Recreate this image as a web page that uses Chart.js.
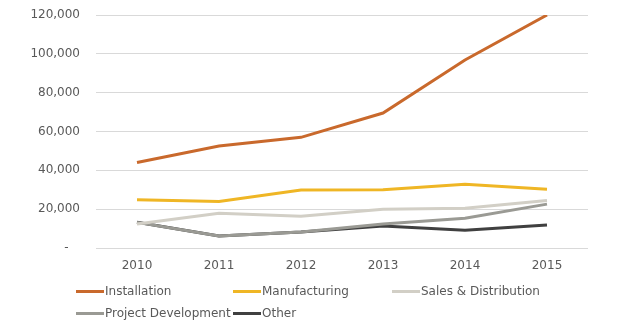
<!DOCTYPE html>
<html>
<head>
<meta charset="utf-8">
<script src="https://cdn.jsdelivr.net/npm/chart.js@4"></script>
<style>
  body { margin: 0; background: #fff; }
  #wrap { position: relative; width: 622px; height: 330px; }
  #legend {
    position: absolute; left: 76px; top: 283px;
    display: grid; grid-template-columns: 157px 159px 160px;
    row-gap: 6px;
    font: 12px "DejaVu Sans", Verdana, sans-serif; color: #595959;
  }
  #legend div { display: flex; align-items: center; height: 16px; white-space: nowrap; }
  #legend span.mk { display: inline-block; width: 28px; height: 3px; margin-right: 1px; }
</style>
</head>
<body>
<div id="wrap">
  <canvas id="jobs" width="622" height="330"></canvas>
  <div id="legend"></div>
</div>
<script>
// years on the x axis
const years = ['2010', '2011', '2012', '2013', '2014', '2015'];

const installation = [44000, 52500, 57000, 69500, 96800, 120000];
const manufacturing = [24800, 24000, 29900, 30000, 32800, 30300];
const sales_distribution = [12400, 17900, 16400, 20000, 20500, 24500];
const project_development = [13200, 6200, 8200, 12300, 15300, 22600];
const other = [13300, 6200, 8200, 11300, 9200, 11900];

const series_names = ['Installation', 'Manufacturing', 'Sales & Distribution', 'Project Development', 'Other'];
const series_colors = ['#c9692c', '#efb625', '#d2cfc6', '#9a9a94', '#404040'];

const all_series = [installation, manufacturing, sales_distribution, project_development, other];

const jobs = document.getElementById('jobs');
const jobs_setup = {
  labels: years,
  datasets: all_series.map(function(d, i) {
    return {
      label: series_names[i],
      data: d,
      borderColor: series_colors[i],
      backgroundColor: series_colors[i],
      borderWidth: 3,
      pointRadius: 0,
      tension: 0,
    }
  })
}

const chart = new Chart(jobs, {
  type: 'line',
  data: jobs_setup,
  options: {
    responsive: false,
    animation: false,
    layout: { padding: {top: 15, right: 34, bottom: 0, left: 0} },
    plugins: {
      legend: {display: false},
      tooltip: {enabled: false},
    },
    scales: {
      x: {
        offset: true,
        grid: {display: false},
        border: {display: false},
        ticks: {color: '#595959', padding: 3, font: {family: 'DejaVu Sans', size: 12}},
        afterFit: function(s) { s.height = 82 },
      },
      y: {
        min: 0,
        max: 120000,
        border: {display: false},
        grid: {color: '#d9d9d9', drawTicks: false},
        ticks: {
          stepSize: 20000,
          color: '#595959',
          padding: 16,
          font: {family: 'DejaVu Sans', size: 12},
          callback: function(v) { return v === 0 ? '-   ' : v.toLocaleString('en-US') },
        },
        afterFit: function(s) {
          s.width = 96;
          s.paddingTop = 0;
          s.paddingBottom = 0;
        },
      },
    },
  },
});

// html legend with line markers, excel style columns
const legend = document.getElementById('legend');
chart.data.datasets.forEach(function(ds) {
  const item = document.createElement('div');
  const mk = document.createElement('span');
  mk.className = 'mk';
  mk.style.background = ds.borderColor;
  item.appendChild(mk);
  item.appendChild(document.createTextNode(ds.label));
  legend.appendChild(item);
});
</script>
</body>
</html>
